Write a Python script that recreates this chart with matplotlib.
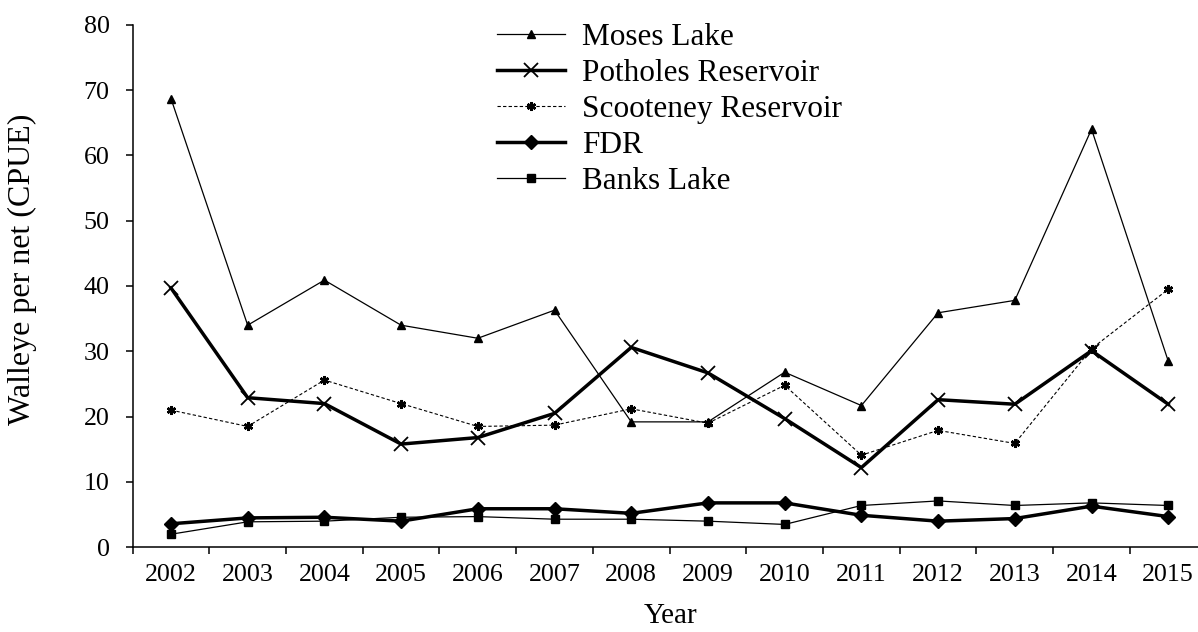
import numpy as np
import matplotlib
matplotlib.use("Agg")
import matplotlib.pyplot as plt

plt.rcParams['font.family'] = ['Liberation Serif', 'DejaVu Serif']

# data
years = [str(y) for y in range(2002, 2016)]
moses = [68.7, 34.0, 40.9, 34.0, 32.0, 36.3, 19.2, 19.2, 26.8, 21.7, 35.9, 37.8, 64.0, 28.5]
potholes = [39.7, 22.9, 22.0, 15.8, 16.8, 20.5, 30.6, 26.7, 19.7, 12.2, 22.6, 21.9, 30.1, 21.9]
scooteney = [21.0, 18.5, 25.6, 22.0, 18.5, 18.7, 21.2, 19.0, 24.8, 14.1, 17.9, 15.9, 30.4, 39.5]
fdr = [3.6, 4.5, 4.6, 4.0, 5.9, 5.9, 5.2, 6.8, 6.8, 4.9, 4.0, 4.4, 6.3, 4.7]
banks = [2.0, 3.9, 4.0, 4.6, 4.7, 4.3, 4.3, 4.0, 3.5, 6.4, 7.1, 6.4, 6.8, 6.4]

W, H = 1198, 632
fig = plt.figure(figsize=(W / 100, H / 100), dpi=100)
# axes box in pixels: left 132.6, right 1206.6 (runs past the image edge), top 24.7, bottom 547.3
ax = fig.add_axes([132.6 / W, (H - 547.3) / H, 1074 / W, (547.3 - 24.7) / H])

x = np.arange(len(years))
ax.plot(x, moses, color='black', lw=0.9, marker='^', ms=6, label='Moses Lake')
ax.plot(x, potholes, color='black', lw=2.5, marker='x', ms=10, mew=1.3, label='Potholes Reservoir')
ax.plot(x, scooteney, color='black', lw=0.8, ls=(0, (3, 2)), marker=(6, 2, 0), ms=6.5, mew=1.8,
        label='Scooteney Reservoir')
ax.plot(x, fdr, color='black', lw=2.5, marker='D', ms=7, label='FDR')
ax.plot(x, banks, color='black', lw=0.9, marker='s', ms=5.5, label='Banks Lake')

ax.set_xlim(-0.5, 13.5)
ax.set_ylim(0, 80)
ax.set_yticks(np.arange(0, 81, 10))
ax.set_xticks(np.arange(-0.5, 14, 1))
ax.set_xticklabels([])
ax.set_xticks(x, minor=True)
ax.set_xticklabels(years, minor=True)

ax.tick_params(axis='y', direction='out', length=5, width=1.1, pad=11.5, labelsize=18.7)
ax.tick_params(axis='x', which='major', direction='out', length=5, width=1.1)
ax.tick_params(axis='x', which='minor', length=0, pad=12, labelsize=18.7)

for s in ['top', 'right']:
    ax.spines[s].set_visible(False)
for s in ['left', 'bottom']:
    ax.spines[s].set_linewidth(1.1)

ax.set_ylabel('Walleye per net (CPUE)', fontsize=23)
ax.yaxis.set_label_coords(-0.089, 0.5325)
ax.set_xlabel('Year', fontsize=21)
ax.xaxis.set_label_coords(0.5008, -0.1073)

ax.legend(loc='upper left', bbox_to_anchor=(497 / W, 1 - 23 / H), bbox_transform=fig.transFigure,
          frameon=False, fontsize=22.5, borderpad=0, borderaxespad=0,
          handlelength=2.18, handletextpad=0.54, labelspacing=0.225)

fig.savefig('out.png', dpi=100)
